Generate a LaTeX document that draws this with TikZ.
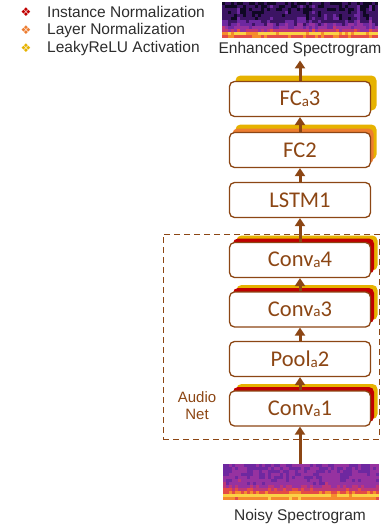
\documentclass[tikz,border=0pt]{standalone}
\usepackage{fontspec}
\setmainfont{Liberation Sans}
\newfontfamily\boxfont{Carlito}
\newfontfamily\symfont{DejaVu Sans}
\usetikzlibrary{positioning,shadows,arrows.meta}

\definecolor{netbrown}{RGB}{140,70,20}
\definecolor{normred}{RGB}{192,0,0}
\definecolor{normorange}{RGB}{237,125,49}
\definecolor{reluyellow}{RGB}{230,178,0}
\definecolor{captiongray}{RGB}{45,45,45}
\definecolor{sp0}{RGB}{15,8,35}
\definecolor{sp1}{RGB}{60,20,100}
\definecolor{sp2}{RGB}{110,40,160}
\definecolor{sp3}{RGB}{150,50,160}
\definecolor{sp4}{RGB}{190,55,120}
\definecolor{sp5}{RGB}{228,75,70}
\definecolor{sp6}{RGB}{245,140,45}
\definecolor{sp7}{RGB}{250,210,70}

\newcommand{\subA}{\raisebox{-0.5pt}{\fontsize{15}{15}\selectfont a}}

\begin{document}
\begin{tikzpicture}[x=1pt,y=-1pt,node distance=49.5pt,on grid,
   layer/.style={draw=netbrown,line width=1.3pt,rounded corners=5pt,fill=white,
      minimum width=141pt,minimum height=35pt,inner sep=0pt,text=netbrown,
      font=\boxfont\fontsize{22.5}{22.5}\selectfont},
   conv/.style={general shadow={fill=reluyellow,shadow xshift=7pt,shadow yshift=7pt},
      general shadow={fill=normred,shadow xshift=3.5pt,shadow yshift=4pt}},
   fcnorm/.style={general shadow={fill=reluyellow,shadow xshift=6pt,shadow yshift=8pt},
      general shadow={fill=normorange,shadow xshift=3pt,shadow yshift=4pt}},
   fcact/.style={general shadow={fill=reluyellow,shadow xshift=6pt,shadow yshift=6pt}},
   flow/.style={draw=netbrown,line width=3pt,-{Triangle[width=10pt,length=8pt]}},
   caption/.style={text=captiongray,font=\fontsize{15.5}{15.5}\selectfont,inner sep=1pt},
   legend/.style={anchor=west,text=captiongray,font=\fontsize{15.5}{15.5}\selectfont,inner sep=0pt},
   marker/.style={font=\symfont\fontsize{12}{12}\selectfont,inner sep=0pt},
   specbox/.style={minimum width=156pt,minimum height=36pt,inner sep=0pt}]
   \useasboundingbox (0,0) rectangle (381,527);

   % legend
   \node[marker,text=normred] (mk1) at (26,12) {❖};
   \node[marker,text=normorange] (mk2) at (26,30) {❖};
   \node[marker,text=reluyellow] (mk3) at (26,48) {❖};
   \node[legend] (leg1) at (47,12) {Instance Normalization};
   \node[legend] (leg2) at (47,30) {Layer Normalization};
   \node[legend] (leg3) at (47,48) {LeakyReLU Activation};

   % spectrograms
   \pgfmathsetseed{7}
   \foreach \c in {0,...,51}{
      \pgfmathsetmacro\cn{rnd}
      \foreach \r in {0,...,11}{
         \pgfmathsetmacro\b{{2.5,2.5,2.5,2.6,2.6,2.7,2.9,3.4,4.3,5.3,7,6}[\r]}
         \pgfmathtruncatemacro\lv{max(0,min(7,round(\b+1.1*(rnd-0.5)+(\r>2)*(\r<10)*1.5*max(0,\cn-0.7))))}
         \fill[sp\lv] (223+3*\c,464+3*\r) rectangle ++(3.1,3.1);
      }
   }
   \foreach \c in {0,...,51}{
      \pgfmathsetmacro\cn{rnd}
      \foreach \r in {0,...,11}{
         \pgfmathsetmacro\b{{0.4,0.5,0.5,0.6,0.7,0.9,1.3,1.9,2.7,3.7,6.8,5.2}[\r]}
         \pgfmathtruncatemacro\lv{max(0,min(7,round(\b+1.4*(rnd-0.5)+(\r>0)*(\r<10)*2.4*max(0,\cn-0.6))))}
         \fill[sp\lv] (222+3*\c,2+3*\r) rectangle ++(3.1,3.1);
      }
   }
   \node[specbox] (noisy) at (300,482) {};
   \node[specbox] (enhanced) at (300,20) {};
   \node[caption] (noisylbl) at (300,516) {Noisy Spectrogram};
   \node[caption] (enhancedlbl) at (300,49) {Enhanced Spectrogram};

   % audio net
   \node[draw=netbrown,line width=0.8pt,dash pattern=on 6pt off 4pt,
      minimum width=216pt,minimum height=205pt] (audionet) at (271,336.5) {};
   \node[text=netbrown,align=center,font=\fontsize{15}{17}\selectfont] (audiolbl) at (197,405.5) {Audio\\Net};

   \node[layer,conv] (conv1) at (300,408.5) {Conv\subA1};
   \node[layer] (pool2) [above=of conv1] {Pool\subA2};
   \node[layer,conv] (conv3) [above=of pool2] {Conv\subA3};
   \node[layer,conv] (conv4) [above=of conv3] {Conv\subA4};
   \node[layer] (lstm1) [above=60pt of conv4] {LSTM1};
   \node[layer,fcnorm] (fc2) [above=50pt of lstm1] {FC2};
   \node[layer,fcact] (fc3) [above=51pt of fc2] {FC\subA3};

   \draw[flow] (noisy.north) -- (conv1.south);
   \draw[flow] (conv1) -- (pool2);
   \draw[flow] (pool2) -- (conv3);
   \draw[flow] (conv3) -- (conv4);
   \draw[flow] (conv4) -- (lstm1);
   \draw[flow] (lstm1) -- (fc2);
   \draw[flow] (fc2) -- (fc3);
   \draw[flow,shorten >=3pt] (fc3) -- (enhancedlbl);
\end{tikzpicture}
\end{document}
